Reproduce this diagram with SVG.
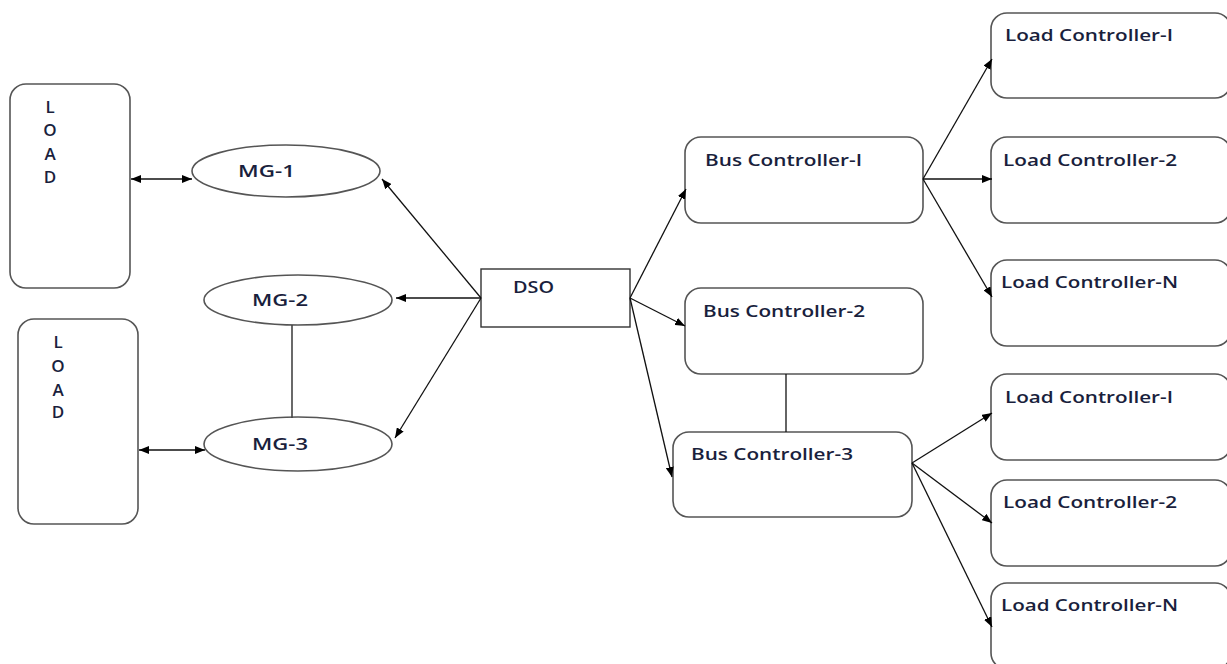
<svg xmlns="http://www.w3.org/2000/svg" width="1227" height="664" viewBox="0 0 1227 664">
<defs>
<marker id="ah" viewBox="0 0 10 8" refX="10" refY="4" markerWidth="10" markerHeight="8" markerUnits="userSpaceOnUse" orient="auto-start-reverse">
<path d="M0,0 L10,4 L0,8 Z" fill="#000"/>
</marker>
</defs>
<style>
.box{fill:#fff;stroke:#555;stroke-width:1.6}
.dso{fill:#fff;stroke:#333;stroke-width:1.4}
.t{font-family:"Open Sans","Liberation Sans",sans-serif;font-size:17px;font-weight:600;fill:#1a1f3d}
.c line{stroke:#111;stroke-width:1.3}
.a{marker-end:url(#ah)}
.d{marker-start:url(#ah);marker-end:url(#ah)}
.p{stroke:#444 !important;stroke-width:1.6 !important}
</style>
<rect width="1227" height="664" fill="#fff"/>
<g id="load1">
<rect class="box" x="10" y="84" width="120" height="204" rx="16"/>
<text class="t" x="50" y="113" text-anchor="middle">L</text>
<text class="t" x="50" y="136" text-anchor="middle">O</text>
<text class="t" x="50" y="160" text-anchor="middle">A</text>
<text class="t" x="50" y="183" text-anchor="middle">D</text>
</g>
<g id="load2">
<rect class="box" x="18" y="319" width="120" height="205" rx="16"/>
<text class="t" x="58" y="348" text-anchor="middle">L</text>
<text class="t" x="58" y="372" text-anchor="middle">O</text>
<text class="t" x="58" y="396" text-anchor="middle">A</text>
<text class="t" x="58" y="418" text-anchor="middle">D</text>
</g>
<g id="mg1">
<ellipse class="box" cx="286" cy="171" rx="94" ry="26"/>
<text class="t" x="238" y="177" textLength="57" lengthAdjust="spacingAndGlyphs">MG-1</text>
</g>
<g id="mg2">
<ellipse class="box" cx="298" cy="300" rx="94" ry="25"/>
<text class="t" x="252" y="306" textLength="56" lengthAdjust="spacingAndGlyphs">MG-2</text>
</g>
<g id="mg3">
<ellipse class="box" cx="298" cy="444" rx="94" ry="27"/>
<text class="t" x="252" y="450" textLength="56" lengthAdjust="spacingAndGlyphs">MG-3</text>
</g>
<g id="dso">
<rect class="dso" x="481" y="269" width="149" height="58"/>
<text class="t" x="513" y="293" textLength="41" lengthAdjust="spacingAndGlyphs">DSO</text>
</g>
<g id="bc1">
<rect class="box" x="685" y="137" width="238" height="86" rx="16"/>
<text class="t" x="705" y="166" textLength="157" lengthAdjust="spacingAndGlyphs">Bus Controller-I</text>
</g>
<g id="bc2">
<rect class="box" x="685" y="288" width="238" height="86" rx="16"/>
<text class="t" x="703" y="317" textLength="162" lengthAdjust="spacingAndGlyphs">Bus Controller-2</text>
</g>
<g id="bc3">
<rect class="box" x="673" y="432" width="239" height="85" rx="16"/>
<text class="t" x="691" y="460" textLength="162" lengthAdjust="spacingAndGlyphs">Bus Controller-3</text>
</g>
<g id="lc1a">
<rect class="box" x="991" y="13" width="240" height="85" rx="16"/>
<text class="t" x="1005" y="41" textLength="168" lengthAdjust="spacingAndGlyphs">Load Controller-I</text>
</g>
<g id="lc2a">
<rect class="box" x="991" y="137" width="240" height="86" rx="16"/>
<text class="t" x="1003" y="166" textLength="174" lengthAdjust="spacingAndGlyphs">Load Controller-2</text>
</g>
<g id="lcna">
<rect class="box" x="991" y="260" width="240" height="86" rx="16"/>
<text class="t" x="1001" y="288" textLength="177" lengthAdjust="spacingAndGlyphs">Load Controller-N</text>
</g>
<g id="lc1b">
<rect class="box" x="991" y="374" width="240" height="86" rx="16"/>
<text class="t" x="1005" y="403" textLength="168" lengthAdjust="spacingAndGlyphs">Load Controller-I</text>
</g>
<g id="lc2b">
<rect class="box" x="991" y="480" width="240" height="86" rx="16"/>
<text class="t" x="1003" y="508" textLength="174" lengthAdjust="spacingAndGlyphs">Load Controller-2</text>
</g>
<g id="lcnb">
<rect class="box" x="991" y="583" width="240" height="86" rx="16"/>
<text class="t" x="1001" y="611" textLength="177" lengthAdjust="spacingAndGlyphs">Load Controller-N</text>
</g>
<g id="connectors" class="c">
<line class="d" x1="131" y1="179" x2="192" y2="179"/>
<line class="d" x1="139" y1="450" x2="205" y2="450"/>
<line class="p" x1="292" y1="325" x2="292" y2="418"/>
<line class="a" x1="481" y1="298" x2="382" y2="179"/>
<line class="a" x1="481" y1="298" x2="396" y2="298"/>
<line class="a" x1="481" y1="298" x2="395" y2="438"/>
<line class="a" x1="630" y1="298" x2="686" y2="189"/>
<line class="a" x1="630" y1="298" x2="685" y2="326"/>
<line class="a" x1="630" y1="298" x2="672" y2="477"/>
<line x1="786" y1="374" x2="786" y2="432"/>
<line class="a" x1="923" y1="179" x2="992" y2="59"/>
<line class="a" x1="923" y1="179" x2="992" y2="179"/>
<line class="a" x1="923" y1="179" x2="992" y2="297"/>
<line class="a" x1="912" y1="463" x2="992" y2="413"/>
<line class="a" x1="912" y1="463" x2="992" y2="523"/>
<line class="a" x1="912" y1="463" x2="992" y2="627"/>
</g>
</svg>
